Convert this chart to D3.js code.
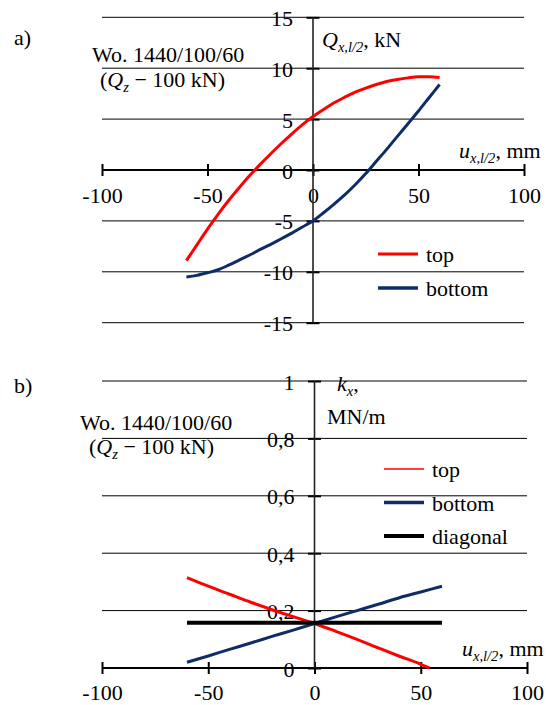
<!DOCTYPE html>
<html>
<head>
<meta charset="utf-8">
<script src="https://cdn.jsdelivr.net/npm/d3@7"></script>
<style>
body { margin: 0; background: #fff; }
svg, svg text { font-family: "Liberation Serif", "Times New Roman", Times, "DejaVu Serif", serif; fill: #000; }
</style>
</head>
<body>
<svg id="chart" width="546" height="705"></svg>
<script>
// ---- data ----
var xTicks = [-100, -50, 0, 50, 100];
var forceTicks = [15, 10, 5, 0, -5, -10, -15];
var stiffTicks = [1, 0.8, 0.6, 0.4, 0.2, 0];
var stiffTickLabels = ["1", "0,8", "0,6", "0,4", "0,2", "0"];

// a) force vs displacement
var forceU = [-60, -55, -50, -45, -40, -35, -30, -25, -20, -15, -10, -5, 0, 5, 10, 15, 20, 25, 30, 35, 40, 45, 50, 55, 60];
var forceTop = [-8.9, -7.35, -5.8, -4.35, -3.0, -1.75, -0.55, 0.55, 1.6, 2.6, 3.55, 4.45, 5.25, 5.95, 6.6, 7.15, 7.65, 8.05, 8.4, 8.7, 8.9, 9.05, 9.15, 9.15, 9.08];
var forceBottom = [-10.5, -10.35, -10.1, -9.8, -9.35, -8.85, -8.35, -7.8, -7.3, -6.75, -6.2, -5.6, -5.0, -4.2, -3.35, -2.45, -1.45, -0.35, 0.85, 2.05, 3.3, 4.55, 5.8, 7.1, 8.4];

// b) stiffness vs displacement
var stiffTopU = [-60, -50, -40, -30, -20, -10, 0, 10, 20, 30, 40, 50, 54];
var stiffTop = [0.315, 0.285, 0.257, 0.229, 0.203, 0.179, 0.155, 0.128, 0.1, 0.07, 0.041, 0.013, 0.0];
var stiffBottomU = [-60, -50, -40, -30, -20, -10, 0, 10, 20, 30, 40, 50, 60];
var stiffBottom = [0.02, 0.042, 0.065, 0.087, 0.11, 0.132, 0.155, 0.178, 0.2, 0.222, 0.245, 0.265, 0.285];
var diagU = [-60, 60];
var diagK = [0.158, 0.158];

var RED = "#ff0000", NAVY = "#0e2c68", BLACK = "#000";
var FONT = "'Liberation Serif', 'Times New Roman', Times, 'DejaVu Serif', serif";
var FS = "22px";

var svg = d3.select("#chart").attr("font-family", FONT);

var zip = function (xs, ys) { return xs.map(function (x, i) { return [x, ys[i]]; }); };

// plain hyphen for negatives, as in the original
var plain = function (d) { return String(d); };

var label = function (g, x, y, s) {
	return g.append("text").attr("x", x).attr("y", y)
		.style("font-family", FONT).style("font-size", FS).text(s);
};

// text with italic symbol + subscript parts
var richText = function (g, x, y, parts) {
	var t = g.append("text").attr("x", x).attr("y", y)
		.style("font-family", FONT).style("font-size", FS);
	parts.forEach(function (p) {
		var s = t.append("tspan").text(p.t);
		if (p.i) s.style("font-style", "italic");
		if (p.sub) s.style("font-size", "14.5px").attr("dy", 5);
		if (p.up) s.attr("dy", -5);
	});
	return t;
};

var drawPanel = function (opt) {
	var g = svg.append("g");
	var x = opt.x, y = opt.y;
	var x0 = x(0), y0 = y(0);

	// gridlines
	g.selectAll(".grid").data(opt.yTicks.filter(function (d) { return d !== 0; }))
		.enter().append("line")
		.attr("x1", x(-100)).attr("x2", x(100))
		.attr("y1", function (d) { return y(d); }).attr("y2", function (d) { return y(d); })
		.attr("stroke", "#000").attr("stroke-width", 1);

	// x axis (ticks crossing the zero line)
	var xa = g.append("g").attr("transform", "translate(0," + (y0 - 6) + ")")
		.call(d3.axisBottom(x).tickValues(xTicks).tickSize(12).tickFormat(plain));
	xa.attr("font-family", FONT);
	xa.select(".domain").remove();
	xa.selectAll("line").attr("stroke", "#000").attr("stroke-width", 2);
	xa.selectAll("text").attr("y", 6 + opt.xLabelGap).attr("dy", 0)
		.style("font-size", FS).style("font-family", FONT);
	g.append("line").attr("x1", x(-100)).attr("x2", x(100)).attr("y1", y0).attr("y2", y0)
		.attr("stroke", "#000").attr("stroke-width", 2.2);

	// y axis
	var ya = g.append("g").attr("transform", "translate(" + (x0 + 6.5) + ",0)")
		.call(d3.axisLeft(y).tickValues(opt.yTicks).tickSize(13).tickFormat(opt.yFormat));
	ya.attr("font-family", FONT);
	ya.select(".domain").remove();
	ya.selectAll("line").attr("stroke", "#000").attr("stroke-width", 2);
	ya.selectAll("text").attr("x", -26.5).attr("y", 8).attr("dy", 0)
		.style("font-size", FS).style("font-family", FONT);
	g.append("line").attr("x1", x0).attr("x2", x0)
		.attr("y1", y(opt.yTicks[0])).attr("y2", y(opt.yTicks[opt.yTicks.length - 1]))
		.attr("stroke", "#222").attr("stroke-width", 1.6);

	// series
	var line = d3.line().x(function (d) { return x(d[0]); }).y(function (d) { return y(d[1]); })
		.curve(d3.curveMonotoneX);
	opt.series.forEach(function (s) {
		g.append("path").datum(s.data).attr("d", line)
			.attr("fill", "none").attr("stroke", s.color).attr("stroke-width", s.width);
	});

	// legend
	opt.series.forEach(function (s, i) {
		var ly = opt.legend.y + i * opt.legend.step;
		g.append("line").attr("x1", opt.legend.x).attr("x2", opt.legend.x + 40)
			.attr("y1", ly).attr("y2", ly)
			.attr("stroke", s.color).attr("stroke-width", s.legendWidth);
		label(g, opt.legend.x + 48, ly + 8, s.name);
	});
	return g;
};

// ---- panel a ----
var xA = d3.scaleLinear().domain([-100, 100]).range([102, 524]);
var yA = d3.scaleLinear().domain([-15, 15]).range([322.7, 17.3]);
var gA = drawPanel({
	x: xA, y: yA, yTicks: forceTicks, yFormat: plain, xLabelGap: 33,
	series: [
		{ name: "top", data: zip(forceU, forceTop), color: RED, width: 3, legendWidth: 3 },
		{ name: "bottom", data: zip(forceU, forceBottom), color: NAVY, width: 3, legendWidth: 3.5 }
	],
	legend: { x: 378, y: 254, step: 34 }
});
label(gA, 14, 45, "a)");
label(gA, 92, 62, "Wo. 1440/100/60");
richText(gA, 100, 87, [{ t: "(" }, { t: "Q", i: true }, { t: "z", i: true, sub: true }, { t: " \u2212 100 kN)", up: true }]);
richText(gA, 322, 47, [{ t: "Q", i: true }, { t: "x,l/2", i: true, sub: true }, { t: ", kN", up: true }]);
richText(gA, 459, 158, [{ t: "u", i: true }, { t: "x,l/2", i: true, sub: true }, { t: ", mm", up: true }]);

// ---- panel b ----
var xB = d3.scaleLinear().domain([-100, 100]).range([102, 527]);
var yB = d3.scaleLinear().domain([0, 1]).range([668, 381]);
var gB = drawPanel({
	x: xB, y: yB, yTicks: stiffTicks, xLabelGap: 32,
	yFormat: function (d, i) { return stiffTickLabels[i]; },
	series: [
		{ name: "top", data: zip(stiffTopU, stiffTop), color: RED, width: 3, legendWidth: 1.5 },
		{ name: "bottom", data: zip(stiffBottomU, stiffBottom), color: NAVY, width: 3, legendWidth: 3.5 },
		{ name: "diagonal", data: zip(diagU, diagK), color: BLACK, width: 4, legendWidth: 4 }
	],
	legend: { x: 384, y: 469, step: 33.5 }
});
label(gB, 14, 393, "b)");
label(gB, 80, 430, "Wo. 1440/100/60");
richText(gB, 89, 454, [{ t: "(" }, { t: "Q", i: true }, { t: "z", i: true, sub: true }, { t: " \u2212 100 kN)", up: true }]);
richText(gB, 337, 391, [{ t: "k", i: true }, { t: "x", i: true, sub: true }, { t: ",", up: true }]);
label(gB, 327, 424, "MN/m");
richText(gB, 462, 656, [{ t: "u", i: true }, { t: "x,l/2", i: true, sub: true }, { t: ", mm", up: true }]);
</script>
</body>
</html>
